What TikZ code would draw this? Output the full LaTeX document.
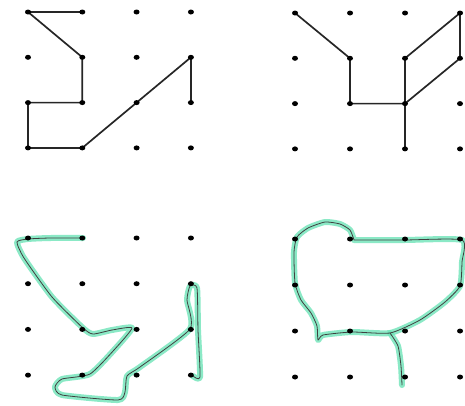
\documentclass[tikz,border=0pt]{standalone}
\usetikzlibrary{shapes.geometric}
\definecolor{mint}{RGB}{110,228,184}
\pgfdeclarelayer{bg}
\pgfsetlayers{bg,main}
\begin{document}
\begin{tikzpicture}[x=1pt,y=-1pt,
  dot/.style={ellipse,fill=black,inner sep=0pt,minimum width=6pt,minimum height=5pt},
  edge/.style={line width=1.7pt,black!85},
  glow/.style={line width=6pt,mint,opacity=0.8,line cap=round,line join=round},
  pen/.style={line width=0.8pt,black!75,line cap=round,line join=round}]
\useasboundingbox (0,0) rectangle (465,405);
\foreach \i in {0,1,2,3}{
  \foreach \j in {0,1,2,3}{
    \node[dot] (A-\i-\j) at ({28+54.3*\i},{12+45.3*\j}) {};
    \node[dot] (B-\i-\j) at ({295+55*\i},{13+45.3*\j}) {};
    \node[dot] (C-\i-\j) at ({28+54.3*\i},{238+45.7*\j}) {};
    \node[dot] (D-\i-\j) at ({295+55*\i},{239+46*\j}) {};
  }
}
\begin{pgfonlayer}{bg}
% top-left
\draw[edge] (A-1-0.center) -- (A-0-0.center) -- (A-1-1.center) -- (A-1-2.center)
  -- (A-0-2.center) -- (A-0-3.center) -- (A-1-3.center) -- (A-3-1.center) -- (A-3-2.center);
% top-right
\draw[edge] (B-0-0.center) -- (B-1-1.center) -- (B-1-2.center) -- (B-2-2.center) -- (B-2-3.center);
\draw[edge] (B-2-2.center) -- (B-2-1.center) -- (B-3-0.center) -- (B-3-1.center) -- (B-2-2.center);
% bottom-left freehand
\def\pathC{(83,238) (50,238) (28,239) (17,242) (24,258) (52,297) (83,328) (93,334) (112,330) (132,328) (114,350) (90,374) (62,379) (55,387) (62,395) (118,400) (125,392) (127,376) (140,367) (190,329) (187,300) (190,286) (197,288) (198,330) (200,377) (193,376)}
\draw[glow] plot[smooth,tension=0.35] coordinates {\pathC};
\draw[pen] plot[smooth,tension=0.35] coordinates {\pathC};
% bottom-right freehand
\def\pathD{(354,240) (350,230) (340,224) (325,222) (308,228) (297,237) (294,252) (295,283) (301,300) (311,313) (317,326) (318,340) (323,335) (352,332) (390,333) (420,320) (445,302) (460,286) (462,262) (462,240) (404,240) (354,240)}
\def\pathE{(390,333) (398,346) (401,366) (402,385)}
\draw[glow] plot[smooth,tension=0.35] coordinates {\pathD};
\draw[glow] plot[smooth,tension=0.35] coordinates {\pathE};
\draw[pen] plot[smooth,tension=0.35] coordinates {\pathD};
\draw[pen] plot[smooth,tension=0.35] coordinates {\pathE};
\end{pgfonlayer}
\end{tikzpicture}
\end{document}
